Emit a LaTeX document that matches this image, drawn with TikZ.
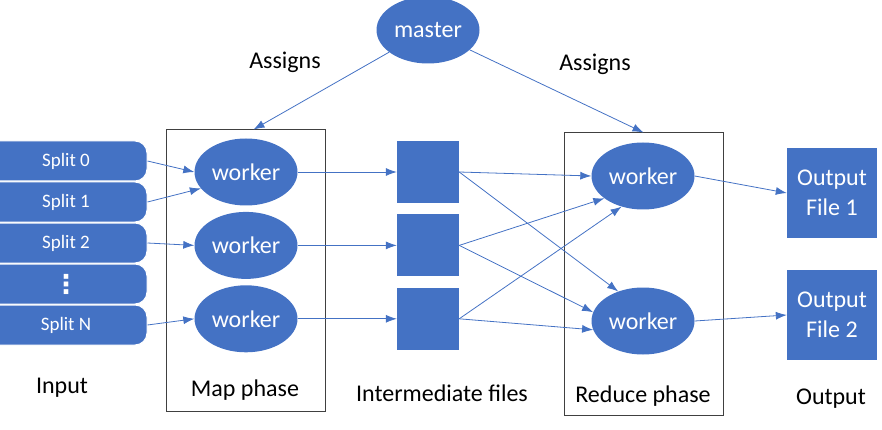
\documentclass[tikz,border=0pt]{standalone}
\usepackage{fontspec}
\setmainfont{Carlito}
\newfontfamily\symfont{DejaVu Sans}
\usepackage{tikz}
\usetikzlibrary{shapes,arrows,arrows.meta,positioning}
\definecolor{mrblue}{HTML}{4472C4}
\tikzstyle{split} = [draw=white, line width=1pt, rectangle, rounded corners=12pt,
    fill=mrblue, text=white, minimum width=162pt, minimum height=40pt,
    font=\fontsize{19}{19}\selectfont]
\tikzstyle{worker} = [ellipse, fill=mrblue, text=white, inner sep=0pt,
    minimum width=103pt, minimum height=67pt, font=\fontsize{24}{24}\selectfont]
\tikzstyle{file} = [rectangle, fill=mrblue, minimum size=62pt, inner sep=0pt]
\tikzstyle{outfile} = [rectangle, fill=mrblue, text=white, minimum size=90pt,
    inner sep=0pt, align=center, font=\fontsize{24}{30}\selectfont]
\tikzstyle{phase} = [draw=black!75, line width=1pt, rectangle,
    minimum width=159pt, minimum height=281pt]
\tikzstyle{stage} = [font=\fontsize{24}{24}\selectfont]
\tikzstyle{connector} = [-{Latex[length=11pt,width=8pt]}, draw=mrblue, line width=0.8pt]

\begin{document}
\begin{tikzpicture}[x=1pt, y=-1pt]
		\useasboundingbox (0,0) rectangle (882,430);
		% input splits
		\node[split] (s0) at (66,161) {Split 0};
		\node[split, below=0pt of s0] (s1) {Split 1};
		\node[split, below=0pt of s1] (s2) {Split 2};
		\node[split, below=0pt of s2] (sd) {\symfont\bfseries\fontsize{26}{26}\selectfont ⋮};
		\node[split, below=0pt of sd] (sN) {Split N};
		
		% map and reduce phases
		\node[phase] (map) at (245.5,270.5) {};
		\node[phase, minimum height=282pt] (reduce) at (643.5,274) {};
		\node[worker] (m1) at (246,172) {worker};
		\node[worker, below=6pt of m1] (m2) {worker};
		\node[worker, below=6pt of m2] (m3) {worker};
		\node[worker] (r1) at (643,176) {worker};
		\node[worker] (r2) at (643,321) {worker};
		\node[worker] (master) at (428,30) {master};
		
		% intermediate and output files
		\node[file] (f1) at (428,172) {};
		\node[file, below=11pt of f1] (f2) {};
		\node[file, below=11pt of f2] (f3) {};
		\node[outfile] (o1) at (832,193) {Output\\File 1};
		\node[outfile] (o2) at (832,315) {Output\\File 2};
		
		\node[stage] (assignL) at (285,62) {Assigns};
		\node[stage] (assignR) at (595,64) {Assigns};
		\node[stage] (input) at (62,388) {Input};
		\node[stage] (mapl) at (245,390) {Map phase};
		\node[stage] (interl) at (442,393) {Intermediate files};
		\node[stage] (reducel) at (643,396) {Reduce phase};
		\node[stage] (output) at (831,399) {Output};
		
		\draw[connector] (master) to ([xshift=8pt]map.north);
		\draw[connector] (master) to (reduce.north);
		\draw[connector] (s0.east) to (m1.west);
		\draw[connector] (s1.east) to (m1.200);
		\draw[connector] (s2.east) to (m2.west);
		\draw[connector] (sN.east) to (m3.west);
		\draw[connector] (m1) to (f1);
		\draw[connector] (m2) to (f2);
		\draw[connector] (m3) to (f3);
		\draw[connector] (f1.east) to (r1.west);
		\draw[connector] (f1.east) to (r2.130);
		\draw[connector] (f2.east) to (r1.210);
		\draw[connector] (f2.east) to (r2.170);
		\draw[connector] (f3.east) to (r1.235);
		\draw[connector] (f3.east) to (r2.190);
		\draw[connector] (r1.east) to (o1.west);
		\draw[connector] (r2.east) to (o2.west);
	\end{tikzpicture}
\end{document}
